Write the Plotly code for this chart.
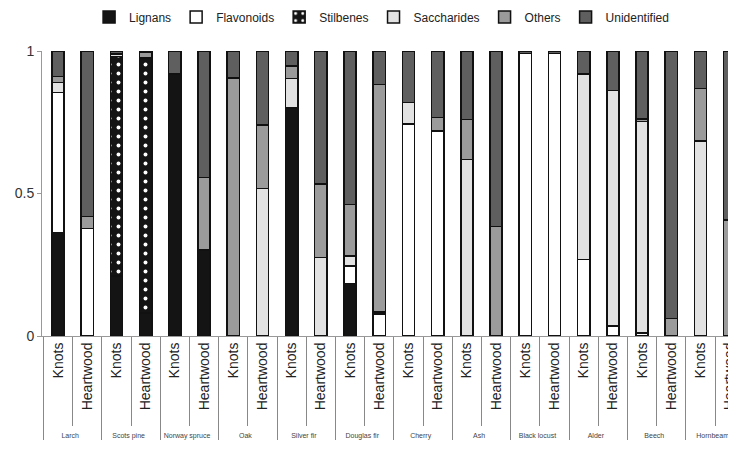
import plotly.graph_objects as go

species = ["Larch", "Scots pine", "Norway spruce", "Oak", "Silver fir", "Douglas fir",
           "Cherry", "Ash", "Black locust", "Alder", "Beech", "Hornbeam"]
tissue = ["Knots", "Heartwood"]

# fractions per bar, order: Larch K, Larch H, Scots K, Scots H, ...
lignans = [0.363, 0.0, 0.21, 0.08, 0.92, 0.302, 0.0, 0.0, 0.80, 0.0, 0.185, 0.0,
           0.0, 0.0, 0.0, 0.0, 0.0, 0.0, 0.0, 0.0, 0.0, 0.0, 0.0, 0.0]
flavonoids = [0.491, 0.378, 0.0, 0.0, 0.0, 0.0, 0.0, 0.0, 0.0, 0.0, 0.061, 0.077,
              0.744, 0.72, 0.0, 0.0, 0.992, 0.992, 0.269, 0.035, 0.01, 0.0, 0.0, 0.0]
stilbenes = [0.0, 0.0, 0.77, 0.895, 0.0, 0.0, 0.0, 0.0, 0.0, 0.0, 0.0, 0.0,
             0.0, 0.0, 0.0, 0.0, 0.0, 0.0, 0.0, 0.0, 0.0, 0.0, 0.0, 0.0]
saccharides = [0.036, 0.0, 0.01, 0.0, 0.0, 0.0, 0.0, 0.518, 0.104, 0.276, 0.035, 0.008,
               0.075, 0.0, 0.62, 0.0, 0.0, 0.0, 0.65, 0.826, 0.742, 0.0, 0.685, 0.0]
others = [0.02, 0.041, 0.0, 0.02, 0.0, 0.254, 0.905, 0.222, 0.043, 0.257, 0.18, 0.798,
          0.0, 0.047, 0.14, 0.384, 0.0, 0.0, 0.0, 0.0, 0.009, 0.062, 0.184, 0.407]
unidentified = [0.09, 0.581, 0.01, 0.005, 0.08, 0.444, 0.095, 0.26, 0.053, 0.467, 0.539, 0.117,
                0.181, 0.233, 0.24, 0.616, 0.008, 0.008, 0.081, 0.139, 0.239, 0.938, 0.131, 0.593]

# species names printed small under each pair of bars
small = '<span style="font-size:7px;color:#444444">%s</span>'
x = [[small % s for s in species for _ in tissue], [t for _ in species for t in tissue]]

series = [
    ("Lignans", lignans, "#141414", None),
    ("Flavonoids", flavonoids, "#ffffff", None),
    ("Stilbenes", stilbenes, "#141414", dict(shape=".", fgcolor="#ffffff", bgcolor="#141414",
                                             size=9, solidity=0.15, fillmode="replace")),
    ("Saccharides", saccharides, "#e2e2e2", None),
    ("Others", others, "#9b9b9b", None),
    ("Unidentified", unidentified, "#5f5f5f", None),
]

fig = go.Figure()
for name, vals, col, pat in series:
    marker = dict(color=col, line=dict(color="#111111", width=1.5))
    if pat:
        marker["pattern"] = pat
    fig.add_trace(go.Bar(x=x, y=vals, name=name, marker=marker, width=0.42))

# page body adds an 8px offset, margins below account for it
fig.update_layout(
    barmode="stack",
    width=736, height=450,
    margin=dict(l=34, r=0, t=43, b=122),
    plot_bgcolor="white", paper_bgcolor="white",
    font=dict(family="Liberation Sans, Arial, sans-serif", size=14, color="#333333"),
    legend=dict(orientation="h", x=0.905, xanchor="right", xref="container",
                y=0.98, yanchor="middle", yref="container",
                font=dict(size=12, color="#222222"), itemwidth=30,
                traceorder="normal", tracegroupgap=0),
    showlegend=True,
)
fig.update_xaxes(
    type="multicategory", range=[-0.55, 23.49], automargin=False,
    tickangle=-90, tickfont=dict(size=14, color="#222222"),
    showline=True, linecolor="#999999",
    ticks="outside", tickson="boundaries", ticklen=89, tickcolor="#888888",
    showdividers=True, dividercolor="#888888", dividerwidth=1,
    showgrid=False,
)
fig.update_yaxes(
    range=[0, 1], tickvals=[0, 0.5, 1], ticktext=["0", "0.5", "1"], automargin=False,
    showline=True, linecolor="#999999", ticks="outside", ticklen=4, tickcolor="#999999",
    showgrid=False, zeroline=False, tickfont=dict(size=14, color="#333333"),
)

fig.write_html("out.html")
